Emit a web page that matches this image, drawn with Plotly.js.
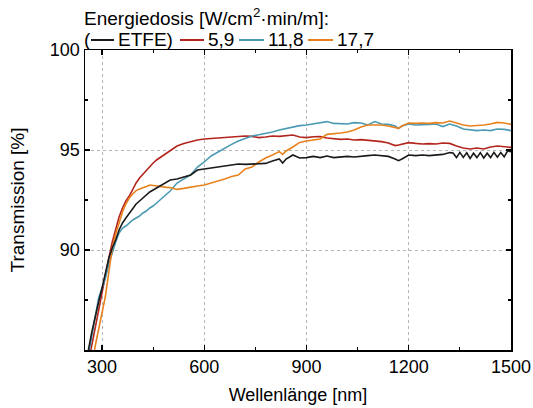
<!DOCTYPE html>
<html>
<head>
<meta charset="utf-8">
<script src="https://cdn.plot.ly/plotly-3.0.1.min.js"></script>
<style>html,body{margin:0;padding:0;background:#fff;}#chart{width:533px;height:408px;}</style>
</head>
<body>
<div id="chart"></div>
<script>
// Wavelength grid (nm) for the irradiated samples
const wl = [250,260,270,280,290,300,310,320,330,340,350,360,370,380,390,400,410,420,430,440,450,460,470,480,490,500,
  520,540,560,580,600,620,640,660,680,700,720,740,760,780,800,820,830,840,860,880,900,920,940,960,980,1000,
  1020,1040,1060,1080,1100,1120,1140,1160,1170,1180,1200,1220,1240,1260,1280,1300,1320,1340,1360,1380,1400,
  1420,1440,1460,1480,1500];

// Wavelength grid (nm) for the ETFE reference
const wlEtfe = [250,260,270,280,290,300,310,320,330,340,350,360,370,380,390,400,410,420,430,440,450,460,470,480,490,500,
  520,540,560,580,600,620,640,660,680,700,720,740,760,780,800,820,830,840,860,880,900,920,940,960,980,1000,
  1020,1040,1060,1080,1100,1120,1140,1160,1170,1180,1200,1220,1240,1260,1280,1300,1320,
  1330,1340,1350,1360,1370,1380,1390,1400,1410,1420,1430,1440,1450,1460,1470,1480,1490,1500];

const tEtfe = [84.4,85.0,85.9,86.7,87.4,88.1,88.9,89.6,90.1,90.5,91.0,91.35,91.6,91.85,92.1,92.3,92.45,92.6,92.75,92.9,93.0,93.1,93.2,93.3,93.4,93.5,
  93.55,93.65,93.75,94.0,94.05,94.1,94.15,94.2,94.25,94.3,94.28,94.3,94.3,94.33,94.45,94.55,94.35,94.55,94.75,94.6,94.62,94.68,94.62,94.7,94.62,94.65,
  94.68,94.65,94.7,94.72,94.75,94.72,94.68,94.55,94.47,94.55,94.75,94.72,94.75,94.72,94.75,94.78,94.87,
  94.85,94.62,94.88,94.63,94.86,94.58,94.84,94.62,94.87,94.6,94.84,94.62,94.88,94.64,94.87,94.66,94.95,94.92];

const t59 = [83.5,84.4,85.3,86.1,86.9,87.8,88.7,89.6,90.4,91.1,91.65,92.1,92.45,92.7,93.05,93.35,93.6,93.8,94.0,94.2,94.35,94.5,94.62,94.75,94.88,95.0,
  95.2,95.33,95.43,95.5,95.55,95.57,95.6,95.62,95.63,95.65,95.7,95.68,95.62,95.65,95.7,95.68,95.7,95.72,95.75,95.65,95.62,95.66,95.67,95.6,95.55,95.53,
  95.55,95.5,95.52,95.48,95.47,95.42,95.35,95.22,95.25,95.3,95.37,95.33,95.3,95.32,95.3,95.35,95.33,95.2,95.1,95.05,95.1,
  95.05,95.15,95.2,95.15,95.13];

const t118 = [83.8,84.8,85.6,86.6,87.6,88.1,88.6,89.3,89.9,90.4,90.85,91.1,91.2,91.35,91.5,91.6,91.7,91.85,91.95,92.1,92.2,92.35,92.5,92.65,92.8,92.95,
  93.35,93.55,93.75,94.15,94.4,94.7,94.9,95.1,95.28,95.45,95.58,95.7,95.76,95.82,95.9,96.0,96.04,96.08,96.15,96.22,96.25,96.3,96.35,96.42,96.33,96.33,
  96.3,96.37,96.35,96.25,96.42,96.3,96.28,96.2,96.08,96.2,96.3,96.25,96.25,96.28,96.3,96.17,96.3,96.2,96.05,96.0,95.97,
  96.0,95.97,96.05,96.03,95.97];

const t177 = [82.5,83.3,84.2,85.2,86.1,86.9,87.7,88.9,90.1,90.8,91.35,91.9,92.3,92.6,92.8,92.97,93.05,93.1,93.18,93.25,93.22,93.2,93.17,93.15,93.13,93.12,
  93.03,93.08,93.15,93.2,93.25,93.35,93.42,93.55,93.68,93.75,94.05,94.15,94.4,94.6,94.75,94.92,94.78,94.95,95.15,95.38,95.45,95.5,95.55,95.78,95.8,95.85,
  95.9,96.0,96.15,96.25,96.25,96.25,96.2,96.12,96.08,96.2,96.35,96.33,96.35,96.33,96.37,96.35,96.45,96.35,96.25,96.2,96.22,
  96.25,96.3,96.38,96.35,96.28];

const seriesNames = ['ETFE','5,9','11,8','17,7'];
const colors = ['#1a1a1a','#b3261e','#4b9ab4','#e8821e'];
const legendTitle = 'Energiedosis [W/cm<sup>2</sup>·min/m]:';
const xTitle = 'Wellenlänge [nm]';
const yTitle = 'Transmission [%]';
const yTickVals = [90,95,100];

const font = 'Liberation Sans, Arial, sans-serif';
const xs = [wlEtfe, wl, wl, wl];
const ys = [tEtfe, t59, t118, t177];
const order = [1,2,3,0];
const traces = order.map(i => ({
  x: xs[i], y: ys[i], type: 'scatter', mode: 'lines', name: seriesNames[i],
  line: {color: colors[i], width: 1.6}, hoverinfo: 'skip'
}));

const L = 85, R = 511, T = 50, B = 350;
const px = v => (v - L) / (R - L);
const py = v => (B - v) / (B - T);
const legY = 40;

const shapes = [[91,114],[180,204],[239,264],[308,333]].map((s, k) => ({
  type: 'line', xref: 'paper', yref: 'paper', x0: px(s[0]), x1: px(s[1]), y0: py(legY), y1: py(legY),
  line: {color: colors[k], width: 2}
}));

const txt = (text, x, y, size) => ({
  text: text, xref: 'paper', yref: 'paper', x: px(x), y: py(y), xanchor: 'left', yanchor: 'middle',
  showarrow: false, borderpad: 0, borderwidth: 0, font: {family: font, size: size || 19, color: '#000'}
});

const annotations = [
  txt(legendTitle, 84, 17),
  txt('(', 84, legY),
  txt(seriesNames[0] + ')', 118, legY),
  txt(seriesNames[1], 208, legY),
  txt(seriesNames[2], 268, legY),
  txt(seriesNames[3], 337, legY)
];

const layout = {
  width: 533, height: 408,
  margin: {l: L, r: 533 - R, t: T, b: 408 - B, pad: 0},
  paper_bgcolor: '#fff', plot_bgcolor: '#fff',
  showlegend: false,
  font: {family: font, size: 18, color: '#000'},
  xaxis: {
    range: [250, 1500], tick0: 300, dtick: 300, ticks: 'inside', ticklen: 5, tickwidth: 1.2, tickcolor: '#000',
    showline: true, linecolor: '#000', linewidth: 1.5, mirror: 'allticks',
    showgrid: true, gridcolor: '#b4b4b4', griddash: 'dot', gridwidth: 1, zeroline: false,
    minor: {dtick: 150, tick0: 300, ticks: 'inside', ticklen: 3, tickcolor: '#000', showgrid: false},
    tickfont: {family: font, size: 18, color: '#000'},
    title: {text: xTitle, font: {family: font, size: 18, color: '#000'}, standoff: 12}
  },
  yaxis: {
    range: [85, 100], tickmode: 'array', tickvals: yTickVals, ticks: 'inside', ticklen: 5, tickwidth: 1.2, tickcolor: '#000',
    showline: true, linecolor: '#000', linewidth: 1.5, mirror: 'allticks',
    showgrid: true, gridcolor: '#b4b4b4', griddash: 'dot', gridwidth: 1, zeroline: false,
    minor: {tickmode: 'linear', dtick: 2.5, tick0: 85, ticks: 'inside', ticklen: 3, tickcolor: '#000', showgrid: false},
    tickfont: {family: font, size: 18, color: '#000'},
    title: {text: yTitle, font: {family: font, size: 19, color: '#000'}, standoff: 20}
  },
  shapes: shapes,
  annotations: annotations
};

Plotly.newPlot('chart', traces, layout, {staticPlot: true, displayModeBar: false});
</script>
</body>
</html>
